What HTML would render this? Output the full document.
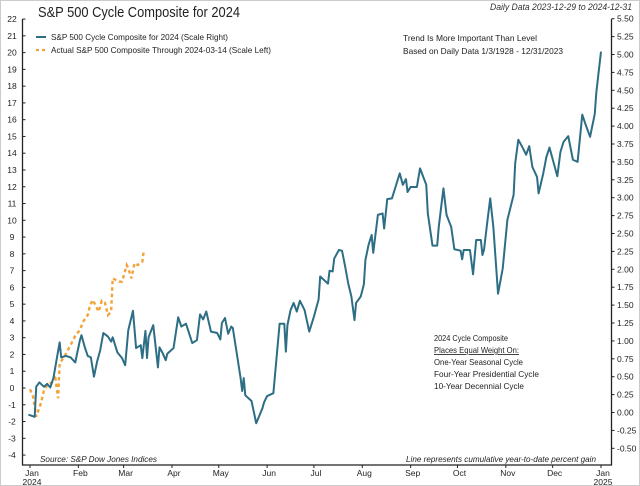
<!DOCTYPE html>
<html><head><meta charset="utf-8">
<style>
html,body{margin:0;padding:0;background:#fff;}
svg{display:block;font-family:"Liberation Sans",sans-serif;}
</style></head>
<body>
<svg id="chart" width="640" height="486" viewBox="0 0 640 486">
<rect x="0.5" y="0.5" width="639" height="485" fill="#fff" stroke="#ccc"/>
<text x="38" y="17" font-size="15" fill="#222" textLength="202" lengthAdjust="spacingAndGlyphs">S&amp;P 500 Cycle Composite for 2024</text>
<text x="632" y="10" font-size="9" font-style="italic" fill="#333" text-anchor="end" textLength="142" lengthAdjust="spacingAndGlyphs">Daily Data 2023-12-29 to 2024-12-31</text>
<g id="axes"></g>
<g id="series"></g>
<g>
<line x1="36" y1="37" x2="46" y2="37" stroke="#2d6e85" stroke-width="2"/>
<text x="51" y="40" font-size="8.5" fill="#222" textLength="177" lengthAdjust="spacingAndGlyphs">S&amp;P 500 Cycle Composite for 2024 (Scale Right)</text>
<line x1="36" y1="50" x2="46" y2="50" stroke="#f2a33a" stroke-width="2.2" stroke-dasharray="3,3"/>
<text x="51" y="53" font-size="8.5" fill="#222" textLength="220" lengthAdjust="spacingAndGlyphs">Actual S&amp;P 500 Composite Through 2024-03-14 (Scale Left)</text>
</g>
<text x="403" y="41" font-size="8.5" fill="#222" textLength="134" lengthAdjust="spacingAndGlyphs">Trend Is More Important Than Level</text>
<text x="403" y="54" font-size="8.5" fill="#222" textLength="160" lengthAdjust="spacingAndGlyphs">Based on Daily Data 1/3/1928 - 12/31/2023</text>
<g font-size="8.5" fill="#222">
<text x="434" y="341" textLength="74" lengthAdjust="spacingAndGlyphs">2024 Cycle Composite</text>
<text x="434" y="353" text-decoration="underline" textLength="85" lengthAdjust="spacingAndGlyphs">Places Equal Weight On:</text>
<text x="434" y="365" textLength="89" lengthAdjust="spacingAndGlyphs">One-Year Seasonal Cycle</text>
<text x="434" y="377" textLength="105" lengthAdjust="spacingAndGlyphs">Four-Year Presidential Cycle</text>
<text x="434" y="389" textLength="90" lengthAdjust="spacingAndGlyphs">10-Year Decennial Cycle</text>
</g>
<text x="40" y="462" font-size="8.5" font-style="italic" fill="#222" textLength="117" lengthAdjust="spacingAndGlyphs">Source:    S&amp;P Dow Jones Indices</text>
<text x="596" y="462" font-size="8.5" font-style="italic" fill="#222" text-anchor="end" textLength="190" lengthAdjust="spacingAndGlyphs">Line represents cumulative year-to-date percent gain</text>
</svg>
<script>
const monthLabels = ["Jan","Feb","Mar","Apr","May","Jun","Jul","Aug","Sep","Oct","Nov","Dec","Jan"];
const monthStartDays = [0,31,60,91,121,152,182,213,244,274,305,335,366];
const leftTicks = [-4,-3,-2,-1,0,1,2,3,4,5,6,7,8,9,10,11,12,13,14,15,16,17,18,19,20,21,22];
const rightTicks = [-0.5,-0.25,0,0.25,0.5,0.75,1,1.25,1.5,1.75,2,2.25,2.5,2.75,3,3.25,3.5,3.75,4,4.25,4.5,4.75,5,5.25,5.5];
const compositeDays = [-1,3,4,6,9,11,13,15,17,19,20,23,26,29,32,33,35,37,39,41,43,45,47,50,52,53,56,59,61,63,66,68,71,72,74,75,76,79,82,83,85,87,88,92,95,97,100,104,107,109,111,113,116,120,122,123,125,127,129,130,135,136,137,138,142,145,149,150,152,156,160,163,164,165,167,169,171,173,176,179,182,185,186,191,192,194,195,198,200,202,204,206,208,209,212,214,215,217,219,220,223,226,227,229,232,235,237,239,241,242,244,248,250,254,255,258,261,262,265,267,270,272,276,277,278,282,284,286,289,290,291,293,295,297,300,303,306,310,311,313,316,318,320,322,325,326,329,331,333,338,340,342,345,348,351,354,356,359,362,363,366];
const compositeValues = [-0.03,-0.06,0.36,0.42,0.36,0.40,0.35,0.48,0.73,0.98,0.77,0.79,0.77,0.70,1.01,1.08,0.92,0.79,0.77,0.50,0.71,0.87,1.11,1.06,0.99,1.05,0.84,0.76,0.66,1.15,1.42,0.90,0.94,0.76,1.14,0.76,1.05,1.22,0.63,0.91,0.83,0.73,0.82,0.90,1.33,1.20,1.24,0.97,1.01,1.37,1.30,1.41,1.13,1.11,1.02,1.25,1.32,1.10,1.20,1.18,0.48,0.30,0.48,0.24,0.16,-0.15,0.06,0.14,0.23,0.27,1.24,1.24,0.85,1.22,1.43,1.53,1.41,1.56,1.43,1.13,1.34,1.58,1.90,1.80,1.98,1.97,2.15,2.27,2.26,2.04,1.80,1.62,1.29,1.53,1.62,1.79,2.13,2.34,2.48,2.23,2.76,2.78,2.57,2.98,2.99,3.20,3.34,3.18,3.26,3.08,3.15,3.15,3.41,3.18,2.78,2.33,2.33,2.59,3.13,2.76,2.59,2.28,2.26,2.14,2.27,2.27,1.93,2.41,2.41,2.20,2.27,2.64,2.99,2.59,1.66,2.01,2.69,3.04,3.48,3.81,3.69,3.60,3.72,3.43,3.29,3.06,3.34,3.57,3.70,3.30,3.64,3.78,3.86,3.53,3.50,4.16,4.03,3.85,4.17,4.47,5.04];
const actualDays = [0,2,4,7,9,12,14,16,18,19,22,26,29,32,34,37,38,40,42,44,46,48,50,52,53,57,59,62,63,65,67,69,72,73];
const actualValues = [-0.08,-0.52,-1.71,-0.91,-0.12,0.28,0.32,0.78,-0.61,1.47,1.87,2.56,3.10,3.46,3.95,4.35,4.75,5.25,4.95,4.55,5.21,5.09,4.35,4.55,6.54,6.34,6.34,7.33,7.14,6.54,7.44,7.33,7.53,8.23];

const NS = "http://www.w3.org/2000/svg";
const L = 22.5, R = 611.5, T = 19, B = 465;
const xScale = d => 30 + d * 1.5601;
const yLeft = v => 388 - v * 16.77;
const yRight = v => 412.5 - v * 71.6;
function mk(tag, attrs, parent){ const e=document.createElementNS(NS,tag); for(const k in attrs) e.setAttribute(k,attrs[k]); parent.appendChild(e); return e; }
const axes = document.getElementById('axes');
const series = document.getElementById('series');

const frame = mk('path',{d:`M${L},${T} V${B} H${R} V${T}`,fill:'none',stroke:'#222','stroke-width':1.3},axes);



leftTicks.forEach(v=>{
  const y=yLeft(v);
  const t=mk('line',{x1:L,x2:L+3,y1:y,y2:y,stroke:'#222','stroke-width':1},axes);
  
  
  const tx=mk('text',{x:12,y:y+3,'font-size':8.5,fill:'#222','text-anchor':'middle'},axes);
  tx.textContent=String(v);
  
  
});
rightTicks.forEach(v=>{
  const y=yRight(v);
  const t=mk('line',{x1:R,x2:R+3,y1:y,y2:y,stroke:'#222','stroke-width':1},axes);
  
  
  const tx=mk('text',{x:617,y:y+3,'font-size':8.5,fill:'#222'},axes);
  tx.textContent=v.toFixed(2);
  
  
});
monthStartDays.forEach((d,i)=>{
  const x=xScale(d);
  const t=mk('line',{x1:x,x2:x,y1:B,y2:B+3,stroke:'#222','stroke-width':1},axes);
  
  
  const tx=mk('text',{x:x+2,y:476,'font-size':8.5,fill:'#222','text-anchor':'middle'},axes);
  tx.textContent=monthLabels[i];
  
  
});
const y1=mk('text',{x:xScale(0)+2,y:485,'font-size':8.5,fill:'#222','text-anchor':'middle'},axes);
y1.textContent='2024';


const y2=mk('text',{x:xScale(366)+2,y:485,'font-size':8.5,fill:'#222','text-anchor':'middle'},axes);
y2.textContent='2025';



const ap=mk('polyline',{points:actualDays.map((d,i)=>xScale(d)+','+yLeft(actualValues[i])).join(' '),fill:'none',stroke:'#f2a33a','stroke-width':2.4,'stroke-dasharray':'3.5,3'},series);


const cp=mk('polyline',{points:compositeDays.map((d,i)=>xScale(d)+','+yRight(compositeValues[i])).join(' '),fill:'none',stroke:'#2d6e85','stroke-width':2,'stroke-linejoin':'round'},series);


</script>
</body></html>
